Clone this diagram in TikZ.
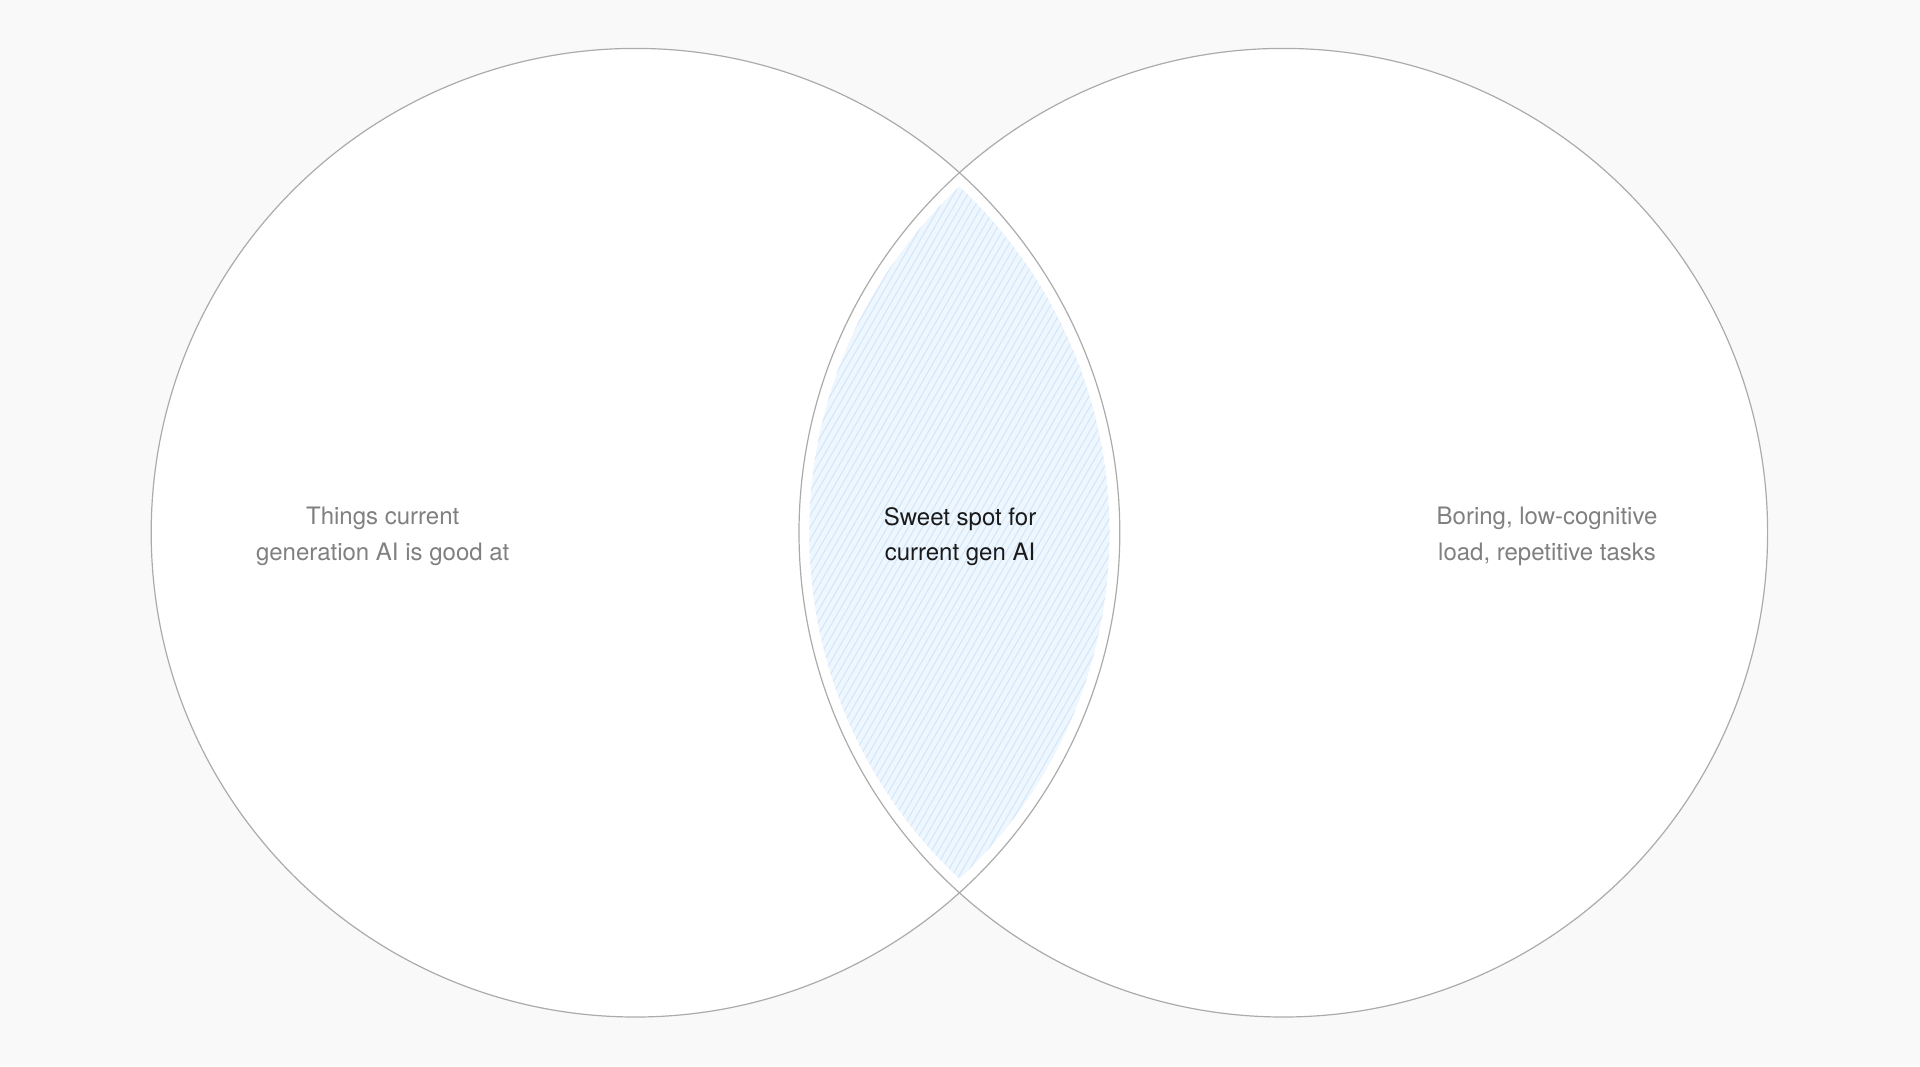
\documentclass[tikz,border=0pt]{standalone}
\usepackage{fontspec}
\setmainfont{TeX Gyre Heros}
\usepackage{xcolor}
\definecolor{pagebg}{HTML}{F9F9F9}
\definecolor{ringgray}{HTML}{ABABAB}
\definecolor{lensblue}{HTML}{EEF6FE}
\definecolor{hatchblue}{HTML}{D3E6FA}
\definecolor{sidetext}{HTML}{808080}
\definecolor{maintext}{HTML}{1A1A1A}

\tikzset{
  ring/.style={draw=ringgray, line width=1.2pt},
  sidelabel/.style={align=center, text=sidetext, font=\fontsize{24}{35.5}\selectfont},
  lenslabel/.style={align=center, text=maintext, font=\fontsize{24}{35.5}\selectfont}
}

\begin{document}
\begin{tikzpicture}[x=1pt, y=-1pt]
        % page
        \fill[pagebg] (0,0) rectangle (1920,1066);
        \useasboundingbox (0,0) rectangle (1920,1066);
        \coordinate (ai) at (635.5,532.7);
        \coordinate (boring) at (1283.3,532.7);
        % white discs
        \fill[white] (ai) circle (484.3pt);
        \fill[white] (boring) circle (484.3pt);
        % hatched lens, a little inside the rings
        \begin{scope}
          \clip (ai) circle (474pt);
          \clip (boring) circle (474pt);
          \fill[lensblue] (800,170) rectangle (1120,900);
          \foreach \i in {395,402,...,1120}
            \draw[hatchblue, line width=1pt] (\i,895) -- ++(410,-710);
        \end{scope}
        % rings
        \draw[ring] (ai) circle (484.3pt);
        \draw[ring] (boring) circle (484.3pt);
        % labels
        \node[sidelabel] (good) at (382.7,536.5) {Things current\\generation AI is good at};
        \node[lenslabel] (sweet) at (960,536.5) {Sweet spot for\\current gen AI};
        \node[sidelabel] (tasks) at (1547,536.5) {Boring, low-cognitive\\load, repetitive tasks};
      \end{tikzpicture}
\end{document}
